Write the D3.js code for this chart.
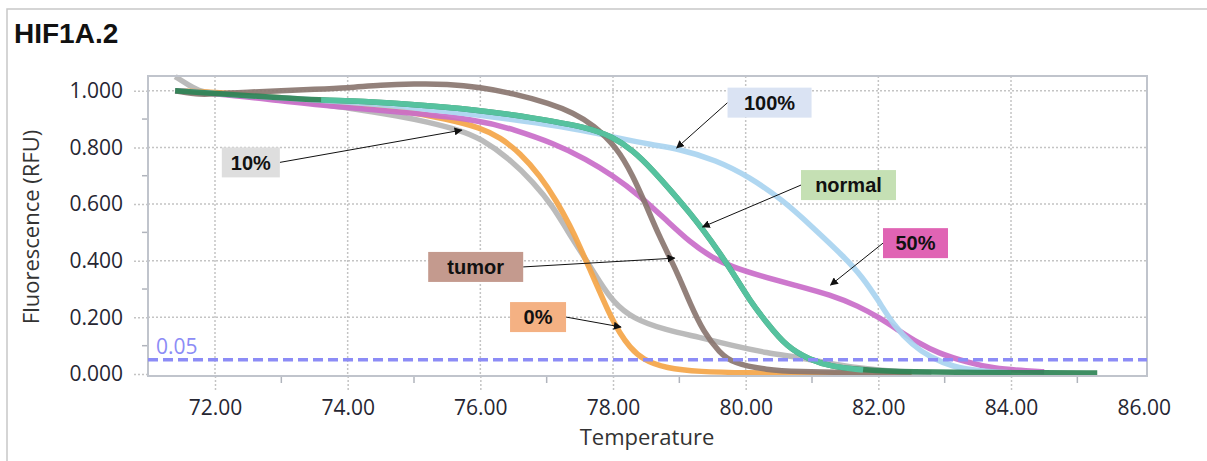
<!DOCTYPE html>
<html>
<head>
<meta charset="utf-8">
<script src="https://cdn.jsdelivr.net/npm/d3@7"></script>
<style>
  body { margin: 0; background: #fff; }
  svg { display: block; }
  .tick text { font-family: "Open Sans", sans-serif; font-size: 21px; fill: #262632; }
</style>
</head>
<body>
<div id="chart"></div>
<script>
// melt curves, [temperature, fluorescence]
var tenPct = [[71.4,1.05],[71.6,1.02],[71.8,0.995],[72,0.99],[72.5,0.983],[73,0.97],[73.5,0.955],[74,0.94],
  [74.79,0.91],[75.2,0.89],[75.7,0.86],[76,0.832],[76.45,0.758],[76.8,0.676],[77.1,0.59],[77.3,0.51],
  [77.6,0.4],[77.8,0.325],[78,0.255],[78.3,0.195],[78.8,0.155],[79.3,0.13],[79.8,0.1],[80.3,0.075],
  [80.9,0.055],[81.3,0.035],[81.8,0.018],[82.3,0.008],[82.8,0.004]];

var zeroPct = [[71.4,1.0],[72,0.995],[73,0.975],[74,0.955],[74.79,0.932],[75.5,0.9],[76,0.87],[76.3,0.835],
  [76.6,0.78],[76.9,0.7],[77.15,0.61],[77.35,0.525],[77.5,0.45],[77.65,0.37],[77.8,0.29],[77.95,0.21],
  [78.1,0.145],[78.25,0.095],[78.45,0.05],[78.8,0.02],[79.3,0.008],[80,0.004],[81,0.002],[82.5,0.001]];

var fiftyPct = [[71.4,1.0],[72,0.99],[72.8,0.97],[73.73,0.945],[74.79,0.925],[76,0.897],[76.5,0.863],
  [77.1,0.815],[77.6,0.758],[78,0.7],[78.4,0.63],[78.8,0.544],[79.16,0.465],[79.5,0.41],[79.8,0.378],
  [80.2,0.348],[80.8,0.31],[81.27,0.28],[81.7,0.24],[82.02,0.198],[82.3,0.155],[82.6,0.11],[82.9,0.074],
  [83.33,0.042],[83.72,0.02],[84.28,0.01],[84.5,0.008]];

var hundredPct = [[71.4,1.0],[72,0.99],[73,0.975],[74,0.96],[74.79,0.945],[76,0.914],[77.3,0.872],
  [78,0.837],[78.6,0.808],[78.96,0.797],[79.56,0.755],[80.06,0.695],[80.56,0.614],[81,0.52],
  [81.5,0.41],[81.75,0.345],[82,0.26],[82.22,0.175],[82.52,0.1],[82.78,0.06],
  [83.12,0.025],[83.53,0.01],[84,0.004]];

var tumor = [[71.4,1.0],[71.8,0.985],[72,0.99],[72.5,0.995],[73,1.0],[73.5,1.005],[74,1.01],[74.5,1.02],
  [75,1.024],[75.5,1.024],[76,1.012],[76.5,0.99],[77.05,0.955],[77.4,0.922],[77.7,0.88],[78.06,0.8],
  [78.3,0.7],[78.5,0.595],[78.7,0.485],[78.86,0.41],[79,0.34],[79.16,0.25],[79.36,0.15],
  [79.61,0.074],[79.8,0.039],[80.32,0.014],[80.8,0.008],[81.5,0.005],[82.5,0.004]];

var normalRep = [[71.4,1.0],[72,0.99],[73,0.975],[73.6,0.967],[74,0.965],[74.79,0.955],[76,0.932],
  [76.8,0.904],[77.6,0.872],[78,0.837],[78.3,0.79],[78.6,0.72],[78.9,0.64],[79.16,0.568],[79.36,0.508],
  [79.6,0.43],[79.8,0.36],[80.06,0.26],[80.32,0.18],[80.62,0.095],[80.97,0.05],[81.27,0.027],
  [81.77,0.014],[82.5,0.007],[83.5,0.005],[84.5,0.004],[85.3,0.004]];

var normal = [[73.6,0.967],[74,0.965],[74.79,0.955],[76,0.932],[76.8,0.904],[77.6,0.872],[78,0.837],
  [78.3,0.79],[78.6,0.72],[78.9,0.64],[79.16,0.568],[79.36,0.508],[79.6,0.43],[79.8,0.36],[80.06,0.26],
  [80.32,0.18],[80.62,0.095],[80.97,0.05],[81.27,0.027],[81.77,0.014]];

var xTicks = [72, 74, 76, 78, 80, 82, 84, 86];
var yTicks = [0, 0.2, 0.4, 0.6, 0.8, 1.0];
var threshold = 0.05;

var series = [
  {data: tenPct, color: "#b5b5b5"},
  {data: zeroPct, color: "#f4a548"},
  {data: fiftyPct, color: "#c96cc9"},
  {data: hundredPct, color: "#a9d4f0"},
  {data: tumor, color: "#8a7670"},
  {data: normalRep, color: "#2f8456"},
  {data: normal, color: "#58c7a4"}
];

// callouts: box centre and arrow tip in data units
var notes = [
  {label: "10%", fill: "#dedede", t: 72.54, f: 0.747, w: 58, tipT: 75.72, tipF: 0.861},
  {label: "100%", fill: "#dae3f3", t: 80.36, f: 0.958, w: 84, tipT: 78.96, tipF: 0.798},
  {label: "normal", fill: "#c5e0b4", t: 81.55, f: 0.667, w: 95, tipT: 79.35, tipF: 0.519},
  {label: "50%", fill: "#e064b4", t: 82.56, f: 0.462, w: 65, tipT: 81.28, tipF: 0.314},
  {label: "tumor", fill: "#c49a8e", t: 75.93, f: 0.378, w: 95, tipT: 78.93, tipF: 0.409},
  {label: "0%", fill: "#f4b183", t: 76.87, f: 0.201, w: 56, tipT: 78.12, tipF: 0.166}
];

var W = 1207, H = 461;
var plot = {left: 148, right: 1147, top: 76, bottom: 376};

var svg = d3.select("#chart").append("svg")
  .attr("width", W)
  .attr("height", H);

// frame around the figure
svg.append("path")
  .attr("d", "M7," + H + "V9H" + W)
  .attr("fill", "none")
  .attr("stroke", "#c8c8c8")
  .attr("stroke-width", 1.5);

svg.append("text")
  .attr("x", 14).attr("y", 43)
  .style("font-family", "Liberation Sans, Arial, sans-serif")
  .style("font-weight", "bold")
  .style("font-size", "28px")
  .style("fill", "#111")
  .text("HIF1A.2");

var x = d3.scaleLinear().domain([70.99, 86.05]).range([plot.left, plot.right]);
var y = d3.scaleLinear().domain([-0.007, 1.052]).range([plot.bottom, plot.top]);

// grid
svg.append("g").selectAll("line")
  .data(yTicks.filter(function(d) { return d > 0; }))
  .enter().append("line")
  .attr("x1", plot.left).attr("x2", plot.right)
  .attr("y1", function(d) { return y(d); }).attr("y2", function(d) { return y(d); })
  .attr("stroke", "#c4c4c4").attr("stroke-width", 1.5).attr("stroke-dasharray", "2,2");

svg.append("g").selectAll("line")
  .data(xTicks.filter(function(d) { return d < 86; }))
  .enter().append("line")
  .attr("x1", function(d) { return x(d); }).attr("x2", function(d) { return x(d); })
  .attr("y1", plot.top).attr("y2", plot.bottom)
  .attr("stroke", "#c4c4c4").attr("stroke-width", 1.5).attr("stroke-dasharray", "2,2");

// axes
var yAxis = svg.append("g")
  .attr("transform", "translate(" + plot.left + ",0)")
  .call(d3.axisLeft(y).tickValues(yTicks).tickFormat(d3.format(".3f")).tickSize(15).tickPadding(10));
yAxis.select(".domain").remove();
yAxis.selectAll(".tick line").attr("stroke", "#c4c4c4").attr("stroke-width", 1.5).attr("stroke-dasharray", "2,2");

var xAxis = svg.append("g")
  .attr("transform", "translate(0," + plot.bottom + ")")
  .call(d3.axisBottom(x).tickValues(xTicks).tickFormat(d3.format(".2f")).tickSize(14).tickPadding(10));
xAxis.select(".domain").remove();
xAxis.selectAll(".tick line").attr("stroke", "#c4c4c4").attr("stroke-width", 1.5).attr("stroke-dasharray", "2,2")
  .filter(function(d) { return d === 86; }).remove();

// minor ticks
svg.append("g").selectAll("line")
  .data([0.1, 0.3, 0.5, 0.7, 0.9])
  .enter().append("line")
  .attr("x1", plot.left - 6).attr("x2", plot.left)
  .attr("y1", function(d) { return y(d); }).attr("y2", function(d) { return y(d); })
  .attr("stroke", "#b0b4bc").attr("stroke-width", 1.5);

svg.append("g").selectAll("line")
  .data([73, 75, 77, 79, 81, 83, 85])
  .enter().append("line")
  .attr("x1", function(d) { return x(d); }).attr("x2", function(d) { return x(d); })
  .attr("y1", plot.bottom).attr("y2", plot.bottom + 7)
  .attr("stroke", "#b0b4bc").attr("stroke-width", 1.5);

// curves
var line = d3.line()
  .x(function(d) { return x(d[0]); })
  .y(function(d) { return y(d[1]); })
  .curve(d3.curveBasis);

svg.append("g").selectAll("path")
  .data(series)
  .enter().append("path")
  .attr("d", function(d) { return line(d.data); })
  .attr("fill", "none")
  .attr("stroke", function(d) { return d.color; })
  .attr("stroke-width", 5.5)
  .attr("stroke-opacity", 0.92);

// plot border
svg.append("rect")
  .attr("x", plot.left).attr("y", plot.top)
  .attr("width", plot.right - plot.left).attr("height", plot.bottom - plot.top)
  .attr("fill", "none")
  .attr("stroke", "#c0c4cc")
  .attr("stroke-width", 2);

// threshold
svg.append("line")
  .attr("x1", plot.left).attr("x2", plot.right)
  .attr("y1", y(threshold)).attr("y2", y(threshold))
  .attr("stroke", "#8c8cf6").attr("stroke-width", 3.5).attr("stroke-dasharray", "10,5");

svg.append("text")
  .attr("x", plot.left + 8).attr("y", y(threshold) - 6)
  .style("font-family", "Open Sans, sans-serif")
  .style("font-size", "21px")
  .style("fill", "#8c8cf6")
  .text("0.05");

// axis titles
svg.append("text")
  .attr("x", 647).attr("y", 445)
  .attr("text-anchor", "middle")
  .style("font-family", "Open Sans, sans-serif")
  .style("font-size", "22px")
  .style("fill", "#333")
  .text("Temperature");

svg.append("text")
  .attr("transform", "translate(39," + 227 + ") rotate(-90)")
  .attr("text-anchor", "middle")
  .style("font-family", "Open Sans, sans-serif")
  .style("font-size", "22px")
  .style("fill", "#333")
  .text("Fluorescence (RFU)");

// callouts
svg.append("defs").append("marker")
  .attr("id", "arrow")
  .attr("viewBox", "0 0 10 10")
  .attr("refX", 9).attr("refY", 5)
  .attr("markerWidth", 8).attr("markerHeight", 8)
  .attr("markerUnits", "userSpaceOnUse")
  .attr("orient", "auto")
  .append("path").attr("d", "M0,0L10,5L0,10Z").attr("fill", "#111");

var note = svg.append("g").selectAll("g")
  .data(notes)
  .enter().append("g");

note.append("line")
  .attr("x1", function(d) { return x(d.t) + (x(d.tipT) > x(d.t) ? d.w / 2 : -d.w / 2); })
  .attr("y1", function(d) { return y(d.f); })
  .attr("x2", function(d) { return x(d.tipT); })
  .attr("y2", function(d) { return y(d.tipF); })
  .attr("stroke", "#111")
  .attr("stroke-width", 1)
  .attr("marker-end", "url(#arrow)");

note.append("rect")
  .attr("x", function(d) { return x(d.t) - d.w / 2; })
  .attr("y", function(d) { return y(d.f) - 15; })
  .attr("width", function(d) { return d.w; })
  .attr("height", 30)
  .attr("fill", function(d) { return d.fill; });

note.append("text")
  .attr("x", function(d) { return x(d.t); })
  .attr("y", function(d) { return y(d.f); })
  .attr("dy", "0.36em")
  .attr("text-anchor", "middle")
  .style("font-family", "Liberation Sans, Arial, sans-serif")
  .style("font-weight", "bold")
  .style("font-size", "20px")
  .style("fill", "#111")
  .text(function(d) { return d.label; });
</script>
</body>
</html>
